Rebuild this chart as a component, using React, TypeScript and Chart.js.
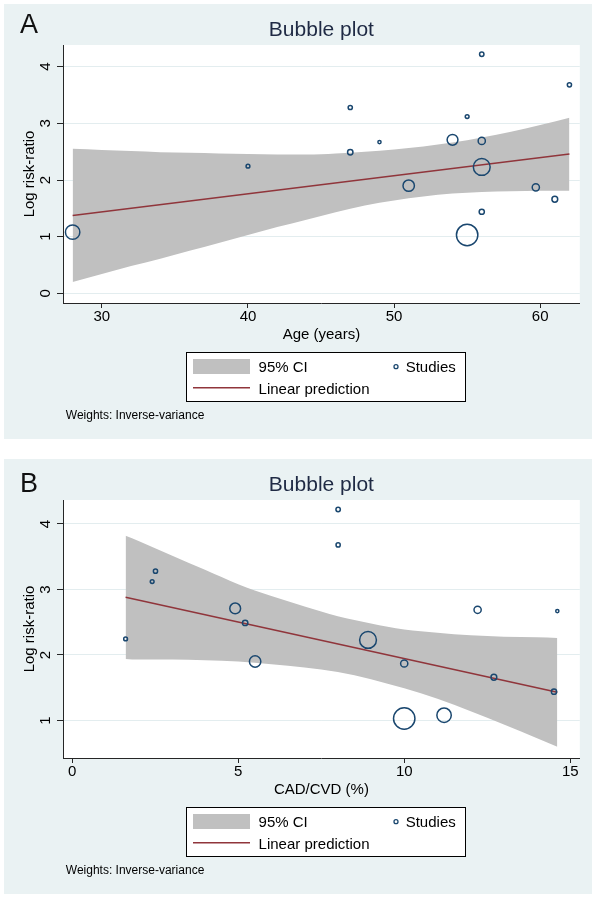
import React, { useEffect, useRef } from "react";
import { Chart, registerables } from "chart.js";

Chart.register(...registerables);

// ---- Study data (one entry per study) ----
const studyAge = [28, 40, 47, 47, 49, 51, 54, 55, 55, 56, 56, 56, 56, 59.7, 61, 62];
const studyCadCvd = [11.2, 1.61, 5.21, 2.51, 14.61, 5.51, 4.91, 10.0, 2.41, 8.91, 12.21, 14.51, 8.01, 10.0, 12.7, 8.01];
const studyLogRR = [1.08, 2.245, 2.49, 3.28, 2.67, 1.9, 2.71, 1.03, 3.12, 2.23, 2.69, 1.44, 4.22, 1.87, 1.66, 3.68];
// bubble size (inverse-variance weight, as drawn radius)
const studyWeightRadius = [7.2, 1.9, 2.7, 2.1, 1.6, 5.7, 5.4, 10.7, 1.9, 8.4, 3.6, 2.6, 2.2, 3.6, 2.9, 2.1];

// ---- Panel A: age meta-regression ----
const ageFitX = [28, 62];
const ageFitY = [1.375, 2.46];
const ageGrid = [28, 30, 32, 34, 36, 38, 40, 42, 44, 46, 48, 50, 52, 54, 56, 58, 60, 62];
const ageCiUpper = [2.55, 2.53, 2.51, 2.49, 2.48, 2.47, 2.46, 2.45, 2.45, 2.47, 2.5, 2.54, 2.59, 2.66, 2.75, 2.85, 2.97, 3.1];
const ageCiLower = [0.2, 0.34, 0.48, 0.61, 0.75, 0.89, 1.03, 1.17, 1.3, 1.43, 1.55, 1.64, 1.71, 1.76, 1.79, 1.8, 1.81, 1.81];

// ---- Panel B: CAD/CVD meta-regression ----
const cadFitX = [1.61, 14.61];
const cadFitY = [2.88, 1.43];
const cadGrid = [1.61, 2, 3, 4, 5, 6, 7, 8, 9, 10, 11, 12, 13, 14, 14.61];
const cadCiUpper = [3.82, 3.74, 3.52, 3.3, 3.08, 2.9, 2.74, 2.59, 2.48, 2.39, 2.34, 2.3, 2.28, 2.27, 2.26];
const cadCiLower = [1.94, 1.93, 1.93, 1.92, 1.9, 1.86, 1.81, 1.74, 1.63, 1.49, 1.33, 1.14, 0.94, 0.73, 0.6];

// ---- Text ----
const chartTitle = "Bubble plot";
const yAxisTitle = "Log risk-ratio";
const legendCiLabel = "95% CI";
const legendFitLabel = "Linear prediction";
const legendStudiesLabel = "Studies";
const weightsNote = "Weights: Inverse-variance";

// ---- Styles ----
const FONT = '"Liberation Sans", Arial, Helvetica, sans-serif';
const BG = "#EAF2F3";
const GRID = "#E3EDEF";
const AXIS = "#262626";
const NAVY = "#1A476F";
const MAROON = "#90353B";
const CI_GRAY = "#C0C0C0";
const TITLE_COLOR = "#1F2A44";

const PANEL_W = 588;
const PANEL_H = 435;
const PLOT_LEFT = 59;
const PLOT_TOP = 41;
const PLOT_RIGHT = 585;
const PLOT_BOTTOM = 299;

type PanelProps = {
  letter: string;
  letterY: number;
  xTitle: string;
  xValues: number[];
  xMin: number;
  xMax: number;
  xStep: number;
  yMin: number;
  yMax: number;
  fitX: number[];
  fitY: number[];
  ciX: number[];
  ciUpper: number[];
  ciLower: number[];
  top: number;
};

function BubblePanel(p: PanelProps) {
  const ref = useRef<HTMLCanvasElement>(null);

  useEffect(() => {
    const canvas = ref.current;
    if (!canvas) return;

    const decor = {
      id: "stataDecor",
      beforeDraw(chart: any) {
        const { ctx, chartArea: a } = chart;
        ctx.save();
        ctx.fillStyle = BG;
        ctx.fillRect(0, 0, chart.width, chart.height);
        ctx.fillStyle = "#ffffff";
        ctx.fillRect(a.left, a.top, a.right - a.left, a.bottom - a.top);
        ctx.restore();
      },
      afterDraw(chart: any) {
        const { ctx, chartArea: a } = chart;
        const cx = (a.left + a.right) / 2;
        ctx.save();
        // panel letter
        ctx.fillStyle = "#111";
        ctx.font = `27px ${FONT}`;
        ctx.textAlign = "left";
        ctx.textBaseline = "alphabetic";
        ctx.fillText(p.letter, 16, p.letterY);
        // title
        ctx.fillStyle = TITLE_COLOR;
        ctx.font = `21px ${FONT}`;
        ctx.textAlign = "center";
        ctx.fillText(chartTitle, cx, 32);
        // rotated y tick labels
        const ys = chart.scales.y;
        ctx.fillStyle = "#000";
        ctx.font = `15px ${FONT}`;
        for (const t of ys.ticks) {
          const py = ys.getPixelForValue(t.value);
          ctx.save();
          ctx.translate(46, py);
          ctx.rotate(-Math.PI / 2);
          ctx.textAlign = "center";
          ctx.fillText(String(t.value), 0, 0);
          ctx.restore();
        }
        // y title
        ctx.save();
        ctx.translate(30, (a.top + a.bottom) / 2);
        ctx.rotate(-Math.PI / 2);
        ctx.textAlign = "center";
        ctx.fillText(yAxisTitle, 0, 0);
        ctx.restore();
        // x title
        ctx.textAlign = "center";
        ctx.fillText(p.xTitle, cx, 335);
        // legend box
        ctx.fillStyle = "#ffffff";
        ctx.fillRect(182.5, 348.5, 279, 49);
        ctx.strokeStyle = "#000";
        ctx.lineWidth = 1;
        ctx.strokeRect(182.5, 348.5, 279, 49);
        ctx.fillStyle = CI_GRAY;
        ctx.fillRect(189, 355, 57, 15);
        ctx.strokeStyle = MAROON;
        ctx.lineWidth = 1.5;
        ctx.beginPath();
        ctx.moveTo(189, 383.7);
        ctx.lineTo(246, 383.7);
        ctx.stroke();
        ctx.strokeStyle = NAVY;
        ctx.lineWidth = 1.3;
        ctx.beginPath();
        ctx.arc(392, 362.7, 2, 0, Math.PI * 2);
        ctx.stroke();
        ctx.fillStyle = "#000";
        ctx.font = `15px ${FONT}`;
        ctx.textAlign = "left";
        ctx.fillText(legendCiLabel, 254.6, 368);
        ctx.fillText(legendFitLabel, 254.6, 389.7);
        ctx.fillText(legendStudiesLabel, 401.7, 368);
        // note
        ctx.font = `12px ${FONT}`;
        ctx.fillText(weightsNote, 61.8, 414.6);
        ctx.restore();
      },
    };

    const chart = new Chart(canvas, {
      type: "bubble",
      data: {
        datasets: [
          {
            type: "bubble",
            label: legendStudiesLabel,
            data: p.xValues.map((x, i) => ({ x, y: studyLogRR[i], r: studyWeightRadius[i] })),
            backgroundColor: "rgba(0,0,0,0)",
            borderColor: NAVY,
            borderWidth: 1.5,
            order: 0,
          } as any,
          {
            type: "line",
            label: legendFitLabel,
            data: p.fitX.map((x, i) => ({ x, y: p.fitY[i] })),
            borderColor: MAROON,
            borderWidth: 1.5,
            pointRadius: 0,
            fill: false,
            order: 1,
          } as any,
          {
            type: "line",
            label: "ci-lower",
            data: p.ciX.map((x, i) => ({ x, y: p.ciLower[i] })),
            borderColor: "rgba(0,0,0,0)",
            borderWidth: 0,
            pointRadius: 0,
            fill: false,
            cubicInterpolationMode: "monotone",
            order: 2,
          } as any,
          {
            type: "line",
            label: legendCiLabel,
            data: p.ciX.map((x, i) => ({ x, y: p.ciUpper[i] })),
            borderColor: "rgba(0,0,0,0)",
            borderWidth: 0,
            pointRadius: 0,
            fill: "-1",
            backgroundColor: CI_GRAY,
            cubicInterpolationMode: "monotone",
            order: 3,
          } as any,
        ],
      },
      options: {
        responsive: false,
        animation: false,
        events: [],
        layout: { padding: { left: 0, top: PLOT_TOP, right: PANEL_W - PLOT_RIGHT, bottom: 0 } },
        plugins: {
          legend: { display: false },
          title: { display: false },
          tooltip: { enabled: false },
        },
        scales: {
          x: {
            type: "linear",
            position: "bottom",
            min: p.xMin,
            max: p.xMax,
            afterFit: (s: any) => {
              s.height = PANEL_H - PLOT_BOTTOM;
            },
            ticks: {
              stepSize: p.xStep,
              includeBounds: false,
              padding: 0,
              color: "#000",
              maxRotation: 0,
              font: { family: FONT, size: 15 },
            },
            grid: {
              drawOnChartArea: false,
              drawTicks: true,
              tickLength: 5,
              tickColor: AXIS,
              color: AXIS,
            },
            border: { display: true, color: AXIS, width: 1 },
          },
          y: {
            type: "linear",
            position: "left",
            min: p.yMin,
            max: p.yMax,
            afterFit: (s: any) => {
              s.width = PLOT_LEFT;
            },
            ticks: {
              stepSize: 1,
              includeBounds: false,
              color: "rgba(0,0,0,0)",
              font: { family: FONT, size: 15 },
            },
            grid: {
              drawOnChartArea: true,
              color: GRID,
              lineWidth: 1,
              drawTicks: true,
              tickLength: 6,
              tickColor: AXIS,
            },
            border: { display: true, color: AXIS, width: 1 },
          },
        },
      } as any,
      plugins: [decor],
    });

    return () => chart.destroy();
  }, []);

  return (
    <canvas
      ref={ref}
      width={PANEL_W}
      height={PANEL_H}
      style={{ position: "absolute", left: 4, top: p.top, width: PANEL_W, height: PANEL_H }}
    />
  );
}

export default function App() {
  return (
    <div style={{ position: "absolute", left: 0, top: 0, width: 607, height: 898, background: "#fff" }}>
      <BubblePanel
        letter="A"
        letterY={28.5}
        xTitle="Age (years)"
        xValues={studyAge}
        xMin={27.34}
        xMax={62.71}
        xStep={10}
        yMin={-0.171}
        yMax={4.383}
        fitX={ageFitX}
        fitY={ageFitY}
        ciX={ageGrid}
        ciUpper={ageCiUpper}
        ciLower={ageCiLower}
        top={4}
      />
      <BubblePanel
        letter="B"
        letterY={32.5}
        xTitle="CAD/CVD (%)"
        xValues={studyCadCvd}
        xMin={-0.275}
        xMax={15.287}
        xStep={5}
        yMin={0.427}
        yMax={4.366}
        fitX={cadFitX}
        fitY={cadFitY}
        ciX={cadGrid}
        ciUpper={cadCiUpper}
        ciLower={cadCiLower}
        top={459}
      />
    </div>
  );
}
